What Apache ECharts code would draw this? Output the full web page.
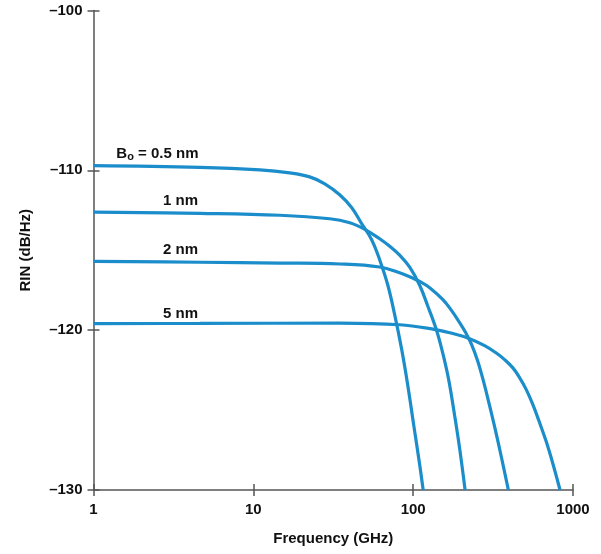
<!DOCTYPE html>
<html>
<head>
<meta charset="utf-8">
<script src="https://cdn.jsdelivr.net/npm/echarts@6/dist/echarts.min.js"></script>
<style>
html,body{margin:0;padding:0;background:#fff;}
#c{width:601px;height:554px;}
</style>
</head>
<body>
<div id="c"></div>
<script>
// Frequency (GHz) and RIN (dB/Hz)
const freq05 = [1, 4.63, 10.98, 16.9, 22.5, 28.0, 34.7, 41.3, 47.6, 55.0, 61.7, 69.3, 76.6, 84.8, 92.4, 100.7, 109.8, 115.5];
const rin05  = [-109.70, -109.81, -109.97, -110.16, -110.41, -110.84, -111.53, -112.34, -113.34, -114.34, -115.59, -117.16, -119.03, -121.22, -123.41, -125.91, -128.41, -130];

const freq1 = [1, 4.63, 14.64, 30.1, 40.1, 49.8, 61.7, 71.3, 82.3, 95.1, 109.8, 123.2, 139.7, 152.9, 166.7, 181.7, 195.4, 211.3];
const rin1  = [-112.61, -112.69, -112.81, -113.03, -113.28, -113.69, -114.28, -114.75, -115.31, -116.06, -117.19, -118.47, -119.97, -121.41, -123.09, -125.34, -127.41, -130];

const freq2 = [1, 4.63, 14.64, 34.7, 61.7, 82.3, 99.3, 109.8, 126.8, 153.5, 174.0, 195.3, 212.9, 232.1, 253.0, 275.8, 300.7, 327.8, 357.4, 394.1];
const rin2  = [-115.70, -115.75, -115.80, -115.86, -116.05, -116.41, -116.74, -116.95, -117.34, -118.09, -118.78, -119.53, -120.15, -120.90, -121.91, -123.22, -124.72, -126.30, -128.00, -130];

const freq5 = [1, 4.63, 34.7, 82.3, 133.0, 169.1, 225.5, 279.9, 331.1, 373.3, 420.7, 463.1, 510.0, 561.0, 617.5, 680.0, 744.7, 829.6];
const rin5  = [-119.59, -119.58, -119.56, -119.66, -119.93, -120.16, -120.53, -120.97, -121.43, -121.84, -122.36, -122.97, -123.72, -124.66, -125.78, -126.97, -128.28, -130];

const curveNames = ['0.5 nm', '1 nm', '2 nm', '5 nm'];
const xTicks = [1, 10, 100, 1000];
const yTicks = [-130, -120, -110, -100];

// label anchors (data units) for the curve annotations
const labelFreq = [2.51, 3.5, 3.5, 3.5];
const labelRin  = [-108.95, -111.9, -115.0, -118.95];

const color = '#1b8dca';
const axisColor = '#555';
const textColor = '#111';
const font = '"Liberation Sans", Arial, sans-serif';

function pairs(xs, ys) { return xs.map((x, i) => [x, ys[i]]); }
const freqs = [freq05, freq1, freq2, freq5];
const rins = [rin05, rin1, rin2, rin5];

const series = freqs.map((f, i) => ({
  type: 'line',
  name: curveNames[i],
  data: pairs(f, rins[i]),
  smooth: 0.4,
  showSymbol: false,
  symbol: 'none',
  clip: false,
  z: 2,
  lineStyle: { color: color, width: 3.2 }
}));

// annotation labels as a scatter series with invisible symbols
series.push({
  type: 'scatter',
  data: labelFreq.map((x, i) => ({ value: [x, labelRin[i]], name: curveNames[i] })),
  symbolSize: 1,
  itemStyle: { color: '#fff', opacity: 1 },
  z: 5,
  label: {
    show: true,
    position: 'inside',
    color: textColor,
    opacity: 1,
    textBorderWidth: 0,
    formatter: p => p.dataIndex === 0 ? '{b|B}{s|o}{b| = 0.5 nm}' : '{b|' + p.name + '}',
    rich: {
      b: { fontFamily: font, fontWeight: 'bold', fontSize: 15, color: textColor, textBorderWidth: 0 },
      s: { fontFamily: font, fontWeight: 'bold', fontSize: 11, color: textColor, textBorderWidth: 0, padding: [7, 0, 0, 0] }
    }
  }
});

const fmtY = v => (v < 0 ? '\u2013' + Math.abs(v) : String(v));

const chart = echarts.init(document.getElementById('c'), null, { renderer: 'canvas' });
chart.setOption({
  backgroundColor: '#fff',
  animation: false,
  grid: { left: 93.5, right: 28, top: 10.5, bottom: 64, containLabel: false },
  xAxis: [{
    type: 'log', logBase: 10, min: xTicks[0], max: xTicks[xTicks.length - 1],
    position: 'bottom',
    name: 'Frequency (GHz)', nameLocation: 'middle', nameGap: 41,
    nameTextStyle: { fontFamily: font, fontWeight: 'bold', fontSize: 15, color: textColor },
    axisLine: { show: true, lineStyle: { color: axisColor, width: 1.5 } },
    axisTick: { show: true, length: 6, lineStyle: { color: axisColor, width: 1.5 } },
    minorTick: { show: false },
    splitLine: { show: false },
    axisLabel: { fontFamily: font, fontWeight: 'bold', fontSize: 15, color: textColor, margin: 12, showMinLabel: true, showMaxLabel: true, formatter: v => String(Math.round(v)) }
  }, {
    type: 'log', logBase: 10, min: xTicks[0], max: xTicks[xTicks.length - 1],
    position: 'bottom', offset: 0,
    axisLine: { show: false },
    axisTick: { show: true, inside: true, length: 6, lineStyle: { color: axisColor, width: 1.5 } },
    axisLabel: { show: false },
    splitLine: { show: false }
  }],
  yAxis: [{
    type: 'value', min: yTicks[0], max: yTicks[yTicks.length - 1], interval: 10,
    position: 'left',
    name: 'RIN (dB/Hz)', nameLocation: 'middle', nameGap: 60, nameRotate: 90,
    nameTextStyle: { fontFamily: font, fontWeight: 'bold', fontSize: 15, color: textColor },
    axisLine: { show: true, lineStyle: { color: axisColor, width: 1.5 } },
    axisTick: { show: true, length: 6, lineStyle: { color: axisColor, width: 1.5 } },
    splitLine: { show: false },
    axisLabel: { fontFamily: font, fontWeight: 'bold', fontSize: 15, color: textColor, margin: 11, formatter: fmtY }
  }, {
    type: 'value', min: yTicks[0], max: yTicks[yTicks.length - 1], interval: 10,
    position: 'left', offset: 0,
    axisLine: { show: false },
    axisTick: { show: true, inside: true, length: 6, lineStyle: { color: axisColor, width: 1.5 } },
    axisLabel: { show: false },
    splitLine: { show: false }
  }],
  series: series
});
</script>
</body>
</html>
